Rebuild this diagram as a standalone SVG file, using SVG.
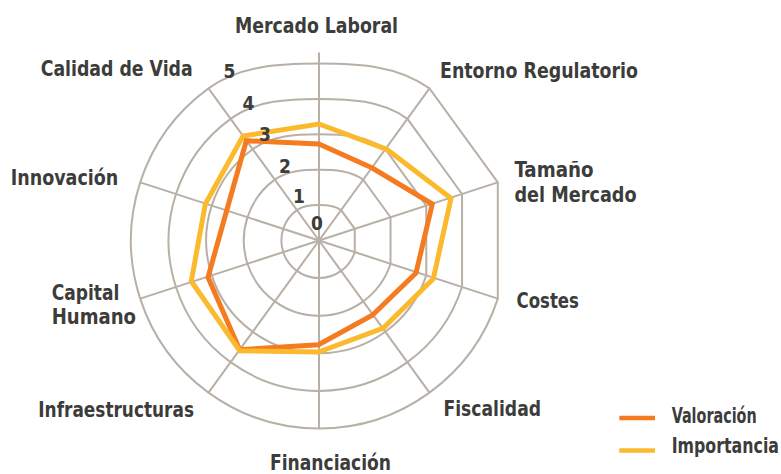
<svg xmlns="http://www.w3.org/2000/svg" xmlns:xlink="http://www.w3.org/1999/xlink" width="781" height="474" viewBox="0 0 781 474">
<style>
.grid{fill:none;stroke:#b8b0a6;stroke-width:2;vector-effect:non-scaling-stroke}
.axis{stroke:#b8b0a6;stroke-width:2}
.lbl{font-family:'Liberation Sans Narrow','DejaVu Sans Condensed','Liberation Sans',sans-serif;font-weight:bold;font-size:22px;fill:#3c3c3b}
.tick{font-family:'Liberation Sans Narrow','DejaVu Sans Condensed','Liberation Sans',sans-serif;font-weight:bold;font-size:19px;fill:#3c3c3b;text-anchor:middle}
.val{fill:none;stroke:#f47b20;stroke-width:5;stroke-linejoin:miter}
.imp{fill:none;stroke:#fbb92d;stroke-width:5;stroke-linejoin:miter}
</style>
<defs>
<path id="ring" class="grid" d="M0,-35.4 C7.48,-35.4 15.68,-35.09 22.1,-30.42 L35.76,-11.62 L35.76,11.62 C33.31,19.17 28.52,25.75 22.1,30.42 C15.68,35.09 7.94,37.6 0,37.6 C-7.94,37.6 -15.68,35.09 -22.1,30.42 C-28.52,25.75 -33.31,19.17 -35.76,11.62 C-38.21,4.07 -38.21,-4.07 -35.76,-11.62 C-33.31,-19.17 -28.52,-25.75 -22.1,-30.42 C-15.68,-35.09 -7.48,-35.4 0,-35.4 Z"/>
</defs>
<g id="grid">
<use xlink:href="#ring" href="#ring" transform="translate(319,240.5) scale(1)"/>
<use xlink:href="#ring" href="#ring" transform="translate(319,240.5) scale(2)"/>
<use xlink:href="#ring" href="#ring" transform="translate(319,240.5) scale(3)"/>
<use xlink:href="#ring" href="#ring" transform="translate(319,240.5) scale(4)"/>
<use xlink:href="#ring" href="#ring" transform="translate(319,240.5) scale(5)"/>
</g>
<g id="axes">
<line class="axis" x1="319" y1="240.5" x2="319" y2="52.5"/>
<line class="axis" x1="319" y1="240.5" x2="429.5" y2="88.4"/>
<line class="axis" x1="319" y1="240.5" x2="497.8" y2="182.4"/>
<line class="axis" x1="319" y1="240.5" x2="497.8" y2="298.6"/>
<line class="axis" x1="319" y1="240.5" x2="429.5" y2="392.6"/>
<line class="axis" x1="319" y1="240.5" x2="319" y2="428.5"/>
<line class="axis" x1="319" y1="240.5" x2="208.5" y2="392.6"/>
<line class="axis" x1="319" y1="240.5" x2="140.2" y2="298.6"/>
<line class="axis" x1="319" y1="240.5" x2="140.2" y2="182.4"/>
<line class="axis" x1="319" y1="240.5" x2="208.5" y2="88.4"/>
</g>
<g id="series">
<polygon id="valoracion" class="val" points="319,144 372.3,168 432.3,204 416,273 372.3,315.3 318.5,344.7 239.7,349.7 208,277.3 226.7,210.5 246.3,140.7"/>
<polygon id="importancia" class="imp" points="319,124 386.7,149.3 451,198.3 433.3,278.7 383.3,328 318.5,352 239.7,350.7 191.3,281.3 205.3,204 243,136"/>
</g>
<g id="ticks">
<text class="tick" x="229.5" y="78">5</text>
<text class="tick" x="248.5" y="110">4</text>
<text class="tick" x="265" y="140.5">3</text>
<text class="tick" x="285" y="173">2</text>
<text class="tick" x="299" y="203">1</text>
<text class="tick" x="317" y="230">0</text>
</g>
<g id="labels">
<text class="lbl" x="235" y="33" textLength="163" lengthAdjust="spacingAndGlyphs">Mercado Laboral</text>
<text class="lbl" x="440" y="77.5" textLength="198" lengthAdjust="spacingAndGlyphs">Entorno Regulatorio</text>
<text class="lbl" x="514.5" y="176.5" textLength="79" lengthAdjust="spacingAndGlyphs">Tamaño</text>
<text class="lbl" x="514.5" y="201.5" textLength="122" lengthAdjust="spacingAndGlyphs">del Mercado</text>
<text class="lbl" x="516.5" y="308" textLength="62.5" lengthAdjust="spacingAndGlyphs">Costes</text>
<text class="lbl" x="443.5" y="415.5" textLength="97.5" lengthAdjust="spacingAndGlyphs">Fiscalidad</text>
<text class="lbl" x="270" y="470" textLength="121" lengthAdjust="spacingAndGlyphs">Financiación</text>
<text class="lbl" x="38.3" y="416.5" textLength="155.7" lengthAdjust="spacingAndGlyphs">Infraestructuras</text>
<text class="lbl" x="51.7" y="300" textLength="67.6" lengthAdjust="spacingAndGlyphs">Capital</text>
<text class="lbl" x="51.7" y="324" textLength="84.3" lengthAdjust="spacingAndGlyphs">Humano</text>
<text class="lbl" x="10.7" y="185" textLength="107.6" lengthAdjust="spacingAndGlyphs">Innovación</text>
<text class="lbl" x="40.7" y="76" textLength="152" lengthAdjust="spacingAndGlyphs">Calidad de Vida</text>
</g>
<g id="legend">
<line x1="619.3" y1="418" x2="655" y2="418" stroke="#f47b20" stroke-width="4.5"/>
<line x1="619.3" y1="450.5" x2="655" y2="450.5" stroke="#fbb92d" stroke-width="4.5"/>
<text class="lbl" x="756.7" y="423" text-anchor="end" textLength="85" lengthAdjust="spacingAndGlyphs">Valoración</text>
<text class="lbl" x="779" y="453" text-anchor="end" textLength="107.3" lengthAdjust="spacingAndGlyphs">Importancia</text>
</g>
</svg>
